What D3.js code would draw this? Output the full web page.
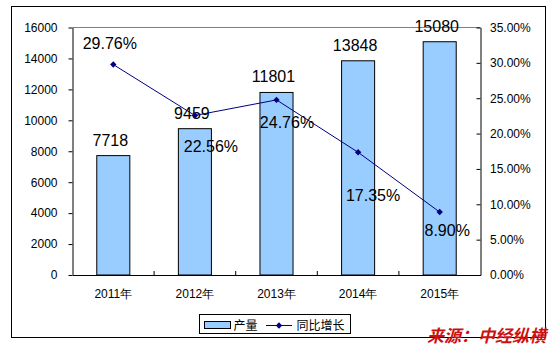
<!DOCTYPE html>
<html>
<head>
<meta charset="utf-8">
<script src="https://cdn.jsdelivr.net/npm/d3@7/dist/d3.min.js"></script>
<style>
  html, body { margin: 0; padding: 0; background: #fff; }
  svg { display: block; font-family: "Liberation Sans", Arial, "Noto Sans CJK SC", sans-serif; }
</style>
</head>
<body>
<svg id="chart" width="551" height="347"></svg>
<script>
// Annual output and year-on-year growth, 2011–2015
const years = ["2011年", "2012年", "2013年", "2014年", "2015年"];
const output = [7718, 9459, 11801, 13848, 15080];
const growth = [0.2976, 0.2256, 0.2476, 0.1735, 0.0890];
const leftTicks = [0, 2000, 4000, 6000, 8000, 10000, 12000, 14000, 16000];
const rightTicks = [0, 0.05, 0.10, 0.15, 0.20, 0.25, 0.30, 0.35];
const seriesNames = ["产量", "同比增长"];
const sourceText = "来源：中经纵横";

// Layout
const plot = { left: 72.5, right: 480.5, top: 27.5, bottom: 275 };
// Growth-label placement relative to each point (dx, dy of the label baseline centre)
const growthLabelShift = [[-3.5, -15.5], [16, 37], [10.5, 28], [15, 48.5], [7.5, 23.5]];

const svg = d3.select("#chart");

// Outer frame
svg.append("rect")
  .attr("x", 11.5).attr("y", 6.5).attr("width", 534).attr("height", 331)
  .attr("fill", "#fff").attr("stroke", "#000").attr("stroke-width", 1);

const x = d3.scaleBand().domain(years).range([plot.left, plot.right]).padding(0);
const yL = d3.scaleLinear().domain([0, 16000]).range([plot.bottom, plot.top]);
const yR = d3.scaleLinear().domain([0, 0.35]).range([plot.bottom, plot.top]);

// Top edge of plot area
svg.append("line")
  .attr("x1", plot.left).attr("x2", plot.right)
  .attr("y1", plot.top).attr("y2", plot.top)
  .attr("stroke", "#808080").attr("stroke-width", 1);

// Bars
const barW = x.bandwidth() * 0.405;
svg.append("g").selectAll("rect")
  .data(output)
  .join("rect")
  .attr("x", (d, i) => x(years[i]) + x.bandwidth() / 2 - barW / 2)
  .attr("y", d => yL(d))
  .attr("width", barW)
  .attr("height", d => yL(0) - yL(d))
  .attr("fill", "#99CCFF")
  .attr("stroke", "#000")
  .attr("stroke-width", 1);

// Left axis
const axL = svg.append("g")
  .attr("transform", `translate(${plot.left},0)`)
  .call(d3.axisLeft(yL).tickValues(leftTicks).tickSizeInner(4).tickSizeOuter(0)
    .tickPadding(11).tickFormat(d3.format("d")));
axL.selectAll("text").attr("font-size", 12).attr("fill", "#000").attr("font-family", null);
axL.selectAll("line, path").attr("stroke", "#000");

// Right axis (ticks point into the plot)
const axR = svg.append("g")
  .attr("transform", `translate(${plot.right},0)`)
  .call(d3.axisRight(yR).tickValues(rightTicks).tickSizeInner(-4).tickSizeOuter(0)
    .tickPadding(9.5).tickFormat(d3.format(".2%")));
axR.selectAll("text").attr("font-size", 12).attr("fill", "#000").attr("font-family", null);
axR.selectAll("line, path").attr("stroke", "#000");

// Bottom axis: labels at category centres
const axB = svg.append("g")
  .attr("transform", `translate(0,${plot.bottom})`)
  .call(d3.axisBottom(x).tickSize(0).tickPadding(14.5));
axB.selectAll("text").attr("font-size", 12).attr("fill", "#000").attr("font-family", null);
axB.select("path").attr("stroke", "#000");

// Category boundary ticks, pointing up
svg.append("g").selectAll("line")
  .data(years.slice(1))
  .join("line")
  .attr("x1", d => x(d)).attr("x2", d => x(d))
  .attr("y1", plot.bottom).attr("y2", plot.bottom - 4)
  .attr("stroke", "#000");

// Bar value labels
svg.append("g").selectAll("text")
  .data(output)
  .join("text")
  .attr("x", (d, i) => x(years[i]) + x.bandwidth() / 2 - 3)
  .attr("y", d => yL(d) - 10)
  .attr("text-anchor", "middle")
  .attr("font-size", 16)
  .attr("fill", "#000")
  .text(d => d);

// Growth line
const cx = i => x(years[i]) + x.bandwidth() / 2;
svg.append("path")
  .datum(growth)
  .attr("d", d3.line().x((d, i) => cx(i)).y(d => yR(d)))
  .attr("fill", "none")
  .attr("stroke", "#000080")
  .attr("stroke-width", 1);

const diamond = d3.symbol().type(d3.symbolDiamond2).size(26);
svg.append("g").selectAll("path")
  .data(growth)
  .join("path")
  .attr("d", diamond)
  .attr("transform", (d, i) => `translate(${cx(i)},${yR(d)})`)
  .attr("fill", "#000080");

// Growth value labels
svg.append("g").selectAll("text")
  .data(growth)
  .join("text")
  .attr("x", (d, i) => cx(i) + growthLabelShift[i][0])
  .attr("y", (d, i) => yR(d) + growthLabelShift[i][1])
  .attr("text-anchor", "middle")
  .attr("font-size", 16)
  .attr("fill", "#000")
  .text(d => d3.format(".2%")(d));

// Legend
const lg = svg.append("g");
lg.append("rect")
  .attr("x", 199.5).attr("y", 314.5).attr("width", 151).attr("height", 19)
  .attr("fill", "#fff").attr("stroke", "#000");
lg.append("rect")
  .attr("x", 204.5).attr("y", 321.5).attr("width", 26).attr("height", 7)
  .attr("fill", "#99CCFF").attr("stroke", "#000");
lg.append("text")
  .attr("x", 233.5).attr("y", 329.5)
  .attr("font-size", 12).attr("fill", "#000")
  .attr("font-family", "'Noto Sans CJK SC', sans-serif")
  .text(seriesNames[0]);
lg.append("line")
  .attr("x1", 266).attr("x2", 292).attr("y1", 325.5).attr("y2", 325.5)
  .attr("stroke", "#000080");
lg.append("path")
  .attr("d", diamond)
  .attr("transform", "translate(279,325.5)")
  .attr("fill", "#000080");
lg.append("text")
  .attr("x", 296.5).attr("y", 329.5)
  .attr("font-size", 12).attr("fill", "#000")
  .attr("font-family", "'Noto Sans CJK SC', sans-serif")
  .text(seriesNames[1]);

// Source note
svg.append("text")
  .attr("x", 546).attr("y", 341.5)
  .attr("text-anchor", "end")
  .attr("font-size", 17)
  .attr("font-weight", "bold")
  .attr("font-style", "italic")
  .attr("fill", "#CC1111")
  .attr("font-family", "'Noto Sans CJK SC', sans-serif")
  .text(sourceText);
</script>
</body>
</html>
